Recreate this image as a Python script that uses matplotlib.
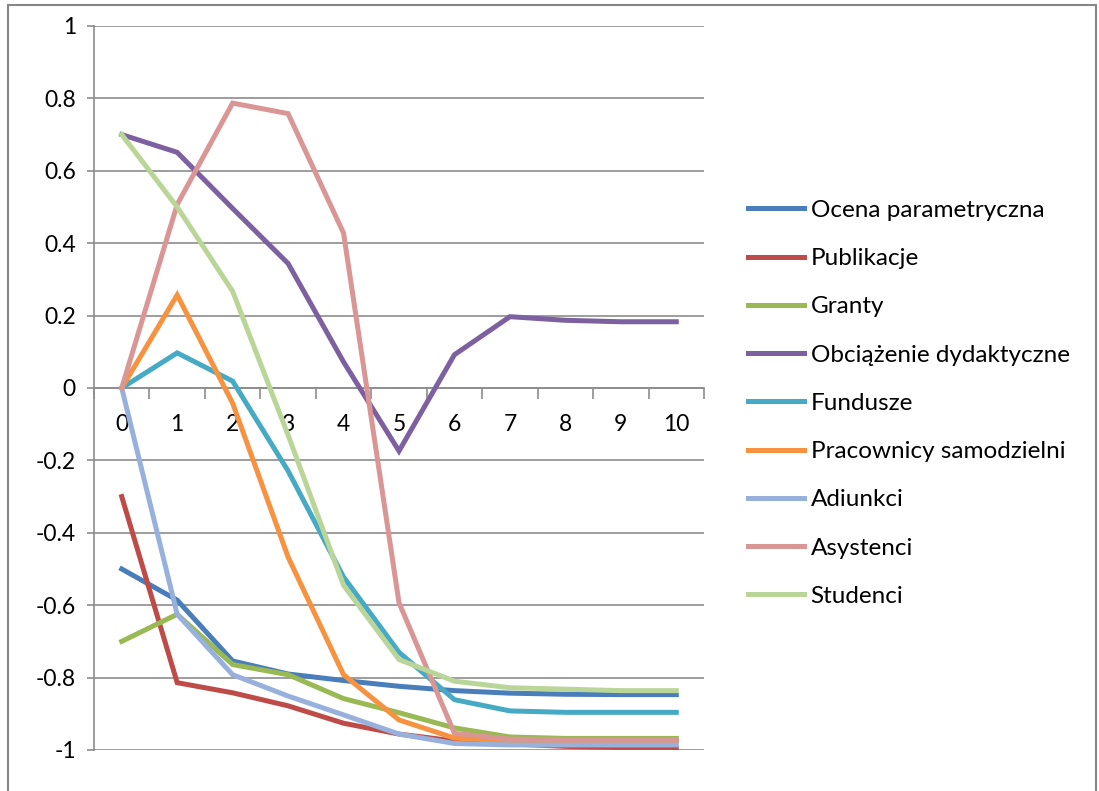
import numpy as np
import matplotlib
matplotlib.use("Agg")
import matplotlib.pyplot as plt
from matplotlib.patches import Rectangle
from matplotlib.ticker import FixedLocator, FuncFormatter

plt.rcParams['font.family'] = ['Lato', 'DejaVu Sans']

# kroki 0..10
steps = list(range(11))

ocena = [-0.50, -0.586, -0.754, -0.79, -0.808, -0.824, -0.836, -0.843, -0.846, -0.847, -0.847]
publikacje = [-0.30, -0.814, -0.842, -0.878, -0.926, -0.956, -0.975, -0.983, -0.99, -0.993, -0.994]
granty = [-0.70, -0.625, -0.764, -0.792, -0.858, -0.897, -0.939, -0.964, -0.968, -0.968, -0.968]
obciazenie = [0.70, 0.651, 0.496, 0.344, 0.072, -0.174, 0.092, 0.197, 0.187, 0.183, 0.183]
fundusze = [0.0, 0.097, 0.019, -0.229, -0.522, -0.73, -0.861, -0.892, -0.896, -0.896, -0.896]
pracownicy = [0.0, 0.257, -0.042, -0.467, -0.792, -0.917, -0.967, -0.975, -0.975, -0.975, -0.975]
adiunkci = [0.0, -0.625, -0.792, -0.851, -0.903, -0.956, -0.982, -0.986, -0.986, -0.986, -0.986]
asystenci = [0.0, 0.507, 0.787, 0.758, 0.428, -0.593, -0.954, -0.97, -0.972, -0.972, -0.972]
studenci = [0.70, 0.50, 0.267, -0.13, -0.545, -0.75, -0.81, -0.828, -0.832, -0.836, -0.836]

names = ["Ocena parametryczna", "Publikacje", "Granty", "Obciążenie dydaktyczne",
         "Fundusze", "Pracownicy samodzielni", "Adiunkci", "Asystenci", "Studenci"]
series = [ocena, publikacje, granty, obciazenie, fundusze, pracownicy, adiunkci, asystenci, studenci]
colors = ["#4A7EBB", "#BE4B48", "#98B954", "#7D60A0", "#46AAC5", "#F69240",
          "#98B1DC", "#D99694", "#B9D597"]

fig = plt.figure(figsize=(10.99, 7.91), dpi=100)
ax = fig.add_axes([94/1099, 41/791, 610/1099, 724/791])

for name, vals, c in zip(names, series, colors):
    ax.plot(steps, vals, color=c, lw=3.6, label=name, zorder=3, solid_joinstyle='miter')

grid_c = "#8C8C8C"
ax.set_xlim(-0.5, 10.5)
ax.set_ylim(-1, 1)
yt = np.round(np.arange(-1, 1.01, 0.2), 1)
ax.set_yticks(yt)
ax.yaxis.set_major_formatter(FuncFormatter(lambda v, p: '%g' % round(v, 1) if abs(v) > 1e-9 else '0'))
for v in yt:
    ax.axhline(v, color=grid_c, lw=1.2, zorder=1)

ax.spines['top'].set_visible(False)
ax.spines['right'].set_visible(False)
ax.spines['left'].set_color(grid_c)
ax.spines['left'].set_linewidth(1.2)
ax.spines['bottom'].set_position(('data', 0))
ax.spines['bottom'].set_color(grid_c)
ax.spines['bottom'].set_linewidth(1.2)

ax.set_xticks(steps)
ax.set_xticklabels([str(s) for s in steps])
ax.xaxis.set_minor_locator(FixedLocator(np.arange(-0.5, 10.6, 1)))
ax.tick_params(axis='x', which='major', length=0, pad=19, labelsize=16.5, colors='black')
ax.tick_params(axis='x', which='minor', length=8, width=1.2, color=grid_c, direction='out')
ax.tick_params(axis='y', length=5, width=1.2, color=grid_c, pad=8, labelsize=16.5, labelcolor='black')

fig.legend(loc='center left', bbox_to_anchor=(748/1099, 0.49), frameon=False, fontsize=17.5,
           handlelength=2.3, handletextpad=0.28, labelspacing=1.12, borderpad=0, borderaxespad=0)

fig.patches.append(Rectangle((8/1099, -0.05), 1088/1099, 1.05 - 5/791, transform=fig.transFigure,
                             fill=False, edgecolor="#868686", lw=1.5))

fig.savefig("out.png", dpi=100)
